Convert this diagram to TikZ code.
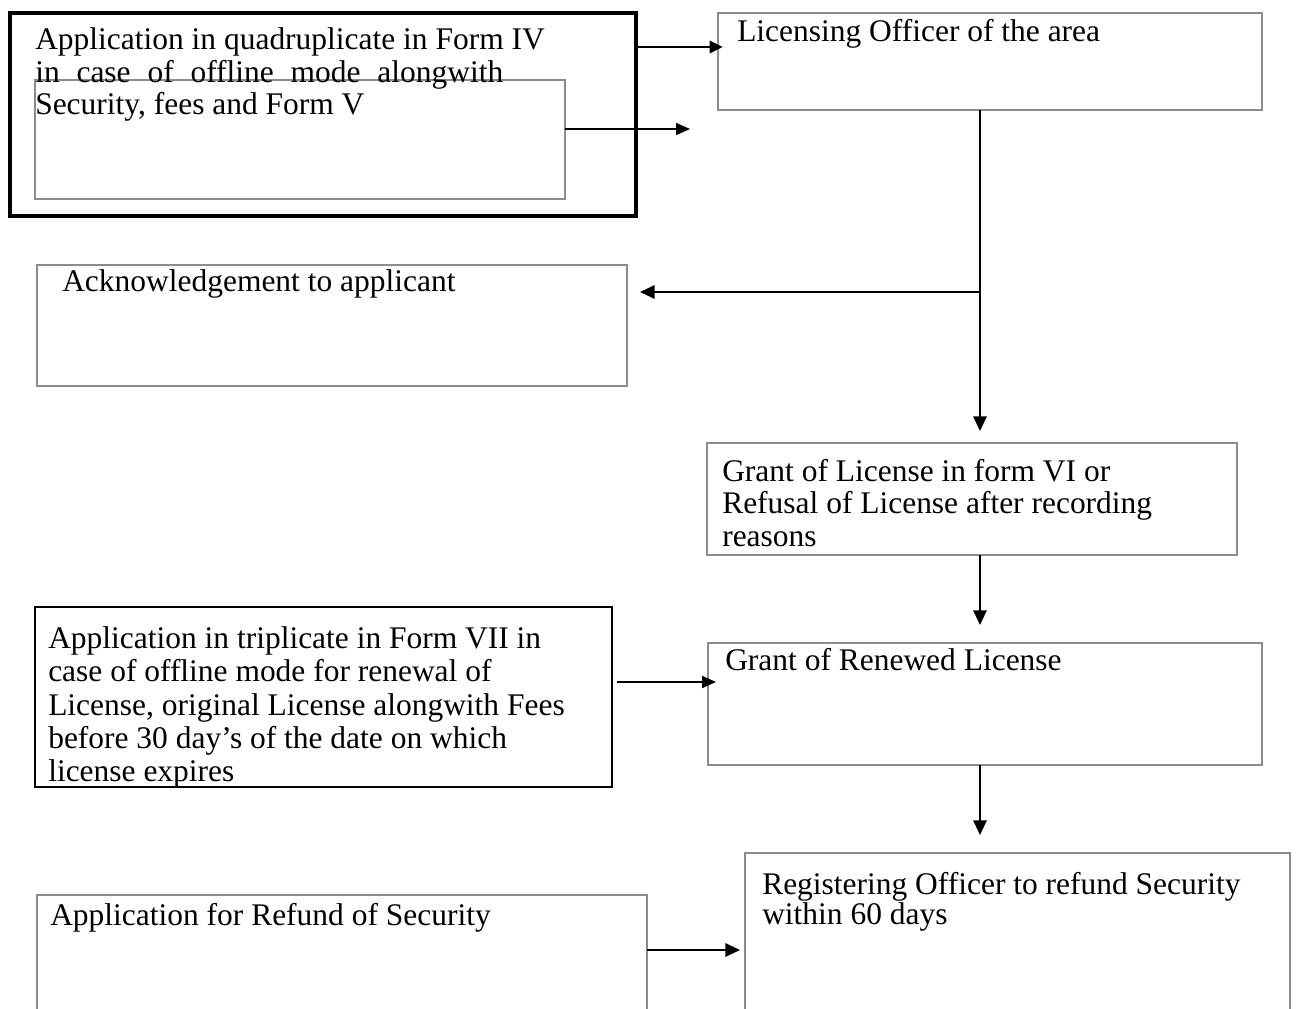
\documentclass[tikz,border=0pt]{standalone}
\usepackage{fontspec}
\setmainfont{Liberation Serif}
\usetikzlibrary{arrows.meta,fit,calc}
\begin{document}
\begin{tikzpicture}[x=0.75pt,y=-0.75pt,
  graybox/.style={draw=black!45,line width=0.9pt,inner sep=0pt,outer sep=0pt},
  blackbox/.style={draw=black,line width=1pt,inner sep=0pt,outer sep=0pt},
  heavybox/.style={draw=black,line width=2.4pt,inner sep=0pt,outer sep=0pt},
  txt/.style={anchor=base west,inner sep=0pt,font=\fontsize{23.6pt}{24.75pt}\selectfont},
  arr/.style={draw=black,line width=1.5pt,-{Triangle[length=11pt,width=10pt]}},
  arrheavy/.style={draw=black,line width=2.2pt,-{Triangle[length=10pt,width=9pt]}},
  arrthin/.style={draw=black,line width=1.3pt,-{Triangle[length=10.5pt,width=9pt]}}]
\useasboundingbox (0,0) rectangle (1297,1009);
\fill[white] (0,0) rectangle (1297,1009);
% boxes
\node[heavybox,fit={(10,13) (636,216)}] (big) {};
\node[graybox,fit={(35,80) (565,199)}] (inner) {};
\node[graybox,fit={(718,13) (1262,110)}] (lic) {};
\node[graybox,fit={(37,265) (627,386)}] (ack) {};
\node[graybox,fit={(707,443) (1237,555)}] (grant) {};
\node[graybox,fit={(708,643) (1262,765)}] (renew) {};
\node[blackbox,fit={(35,607) (612,787)}] (form7) {};
\node[graybox,fit={(745,853) (1290,1020)}] (reg) {};
\node[graybox,fit={(37,895) (647,1020)}] (refund) {};
% texts
\node[txt] (t1a) at (35,50) {Application in quadruplicate in Form IV};
\node[txt] (t1b) at (35,83) {\makebox[351pt][s]{in case of offline mode alongwith}};
\node[txt] (t1c) at (35,115) {Security, fees and Form V};
\node[txt] (tlic) at (737,42) {Licensing Officer of the area};
\node[txt] (tack) at (62,292) {Acknowledgement to applicant};
\node[txt] (tg1) at (722,481) {Grant of License in form VI or};
\node[txt] (tg2) at (722,513) {Refusal of License after recording};
\node[txt] (tg3) at (722,546) {reasons};
\node[txt] (tren) at (725,670) {Grant of Renewed License};
\node[txt] (tf1) at (48,648) {Application in triplicate in Form VII in};
\node[txt] (tf2) at (48,681) {case of offline mode for renewal of};
\node[txt] (tf3) at (48,715) {License, original License alongwith Fees};
\node[txt] (tf4) at (48,748) {before 30 day’s of the date on which};
\node[txt] (tf5) at (48,781) {license expires};
\node[txt] (treg1) at (762,894) {Registering Officer to refund Security};
\node[txt] (treg2) at (762,924) {within 60 days};
\node[txt] (tref) at (50,925) {Application for Refund of Security};
% connector helpers
\coordinate (toprow) at (0,47);
\coordinate (trunk) at (980,292);
\coordinate (a2end) at (690,129);
\coordinate (row7) at (0,682);
\coordinate (rowref) at (0,950);
% connectors
\draw[arrheavy] (big.east |- toprow) -- ($(lic.west |- toprow)+(5,0)$);
\draw[arrthin] (inner.east |- a2end) -- (a2end);
\draw[arr] (lic.south -| trunk) -- ($(grant.north -| trunk)+(0,-12)$);
\draw[arr] (trunk) -- ($(ack.east |- trunk)+(13,0)$);
\draw[arr] (grant.south -| trunk) -- ($(renew.north -| trunk)+(0,-18)$);
\draw[arrthin] ($(form7.east |- row7)+(5,0)$) -- ($(renew.west |- row7)+(8,0)$);
\draw[arr] (renew.south -| trunk) -- ($(reg.north -| trunk)+(0,-18)$);
\draw[arr] (refund.east |- rowref) -- ($(reg.west |- rowref)+(-5,0)$);
\end{tikzpicture}
\end{document}
